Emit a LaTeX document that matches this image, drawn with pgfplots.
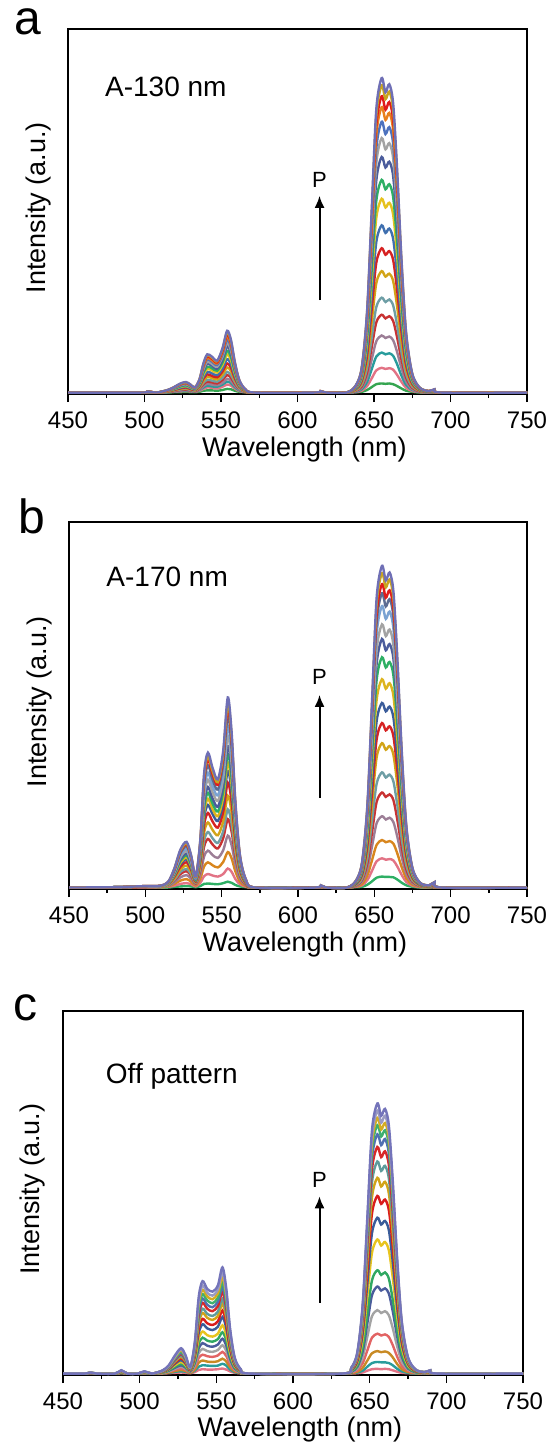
\documentclass[border=0pt]{standalone}
\usepackage{fontspec}
\setmainfont{Liberation Sans}
\usepackage{pgfplots}
\pgfplotsset{compat=1.18}
\usepackage{pgfplotstable}
\usetikzlibrary{arrows.meta}

% panel a colours (1 = highest curve)
\definecolor{pa1}{HTML}{6F6FB5}\definecolor{pa2}{HTML}{C8A420}\definecolor{pa3}{HTML}{E01B1B}
\definecolor{pa4}{HTML}{E8801E}\definecolor{pa5}{HTML}{4D72BE}\definecolor{pa6}{HTML}{A3A3A3}
\definecolor{pa7}{HTML}{4B5C9C}\definecolor{pa8}{HTML}{2EAF64}\definecolor{pa9}{HTML}{E6C21E}
\definecolor{pa10}{HTML}{3F6FAF}\definecolor{pa11}{HTML}{D62222}\definecolor{pa12}{HTML}{D2A418}
\definecolor{pa13}{HTML}{6E9EA5}\definecolor{pa14}{HTML}{C83232}\definecolor{pa15}{HTML}{9C7E96}
\definecolor{pa16}{HTML}{289C9C}\definecolor{pa17}{HTML}{E27385}\definecolor{pa18}{HTML}{35A550}
% panel b colours
\definecolor{pb1}{HTML}{6F6FB5}\definecolor{pb2}{HTML}{C8A420}\definecolor{pb3}{HTML}{E01B1B}
\definecolor{pb4}{HTML}{5C6C92}\definecolor{pb5}{HTML}{7AA2D2}\definecolor{pb6}{HTML}{A3A3A3}
\definecolor{pb7}{HTML}{4B5C9C}\definecolor{pb8}{HTML}{2EAF64}\definecolor{pb9}{HTML}{DDB41E}
\definecolor{pb10}{HTML}{3A5C9A}\definecolor{pb11}{HTML}{D62222}\definecolor{pb12}{HTML}{D2A418}
\definecolor{pb13}{HTML}{6E9EA5}\definecolor{pb14}{HTML}{C83232}\definecolor{pb15}{HTML}{9C7E96}
\definecolor{pb16}{HTML}{D8861E}\definecolor{pb17}{HTML}{E27385}\definecolor{pb18}{HTML}{2EAF64}
% panel c colours
\definecolor{pc1}{HTML}{7474BA}\definecolor{pc2}{HTML}{9A9AC2}\definecolor{pc3}{HTML}{D4AC22}
\definecolor{pc4}{HTML}{3EB06E}\definecolor{pc5}{HTML}{5070B2}\definecolor{pc6}{HTML}{D82828}
\definecolor{pc7}{HTML}{5E9C9C}\definecolor{pc8}{HTML}{D2A418}\definecolor{pc9}{HTML}{DA1C1C}
\definecolor{pc10}{HTML}{3A5C9A}\definecolor{pc11}{HTML}{E8C41E}\definecolor{pc12}{HTML}{30A862}
\definecolor{pc13}{HTML}{4B5C9C}\definecolor{pc14}{HTML}{A3A3A3}\definecolor{pc15}{HTML}{E26464}
\definecolor{pc16}{HTML}{C88A24}\definecolor{pc17}{HTML}{2A9C9C}\definecolor{pc18}{HTML}{E27385}

\pgfplotstableread{
w c1 c2 c3 c4 c5 c6 c7 c8 c9 c10 c11 c12 c13 c14 c15 c16 c17 c18
450 0 0 0 0 0 0 0 0 0 0 0 0 0 0 0 0 0 0
498 0 0 0 0 0 0 0 0 0 0 0 0 0 0 0 0 0 0
502 0.3 0.3 0.3 0.3 0.2 0.2 0.2 0.2 0.2 0.2 0.1 0.1 0.1 0.1 0.1 0 0 0
508 0 0 0 0 0 0 0 0 0 0 0 0 0 0 0 0 0 0
515 0.7 0.7 0.6 0.6 0.6 0.5 0.5 0.5 0.4 0.4 0.3 0.3 0.2 0.2 0.2 0.1 0.1 0.0
519 1.4 1.4 1.4 1.3 1.2 1.2 1.1 1.0 0.9 0.8 0.7 0.6 0.5 0.4 0.3 0.3 0.2 0.1
523 2.4 2.3 2.2 2.2 2.0 1.9 1.8 1.6 1.5 1.3 1.1 1.0 0.8 0.7 0.5 0.4 0.3 0.1
527 2.9 2.8 2.7 2.6 2.5 2.3 2.2 2.0 1.8 1.6 1.4 1.2 1.0 0.8 0.6 0.5 0.4 0.2
530 2.2 2.2 2.1 2.0 1.9 1.8 1.7 1.5 1.4 1.2 1.0 0.9 0.7 0.6 0.5 0.4 0.3 0.1
533 1.4 1.4 1.4 1.3 1.2 1.2 1.1 1.0 0.9 0.8 0.7 0.6 0.5 0.4 0.3 0.3 0.2 0.1
536 3.7 3.7 3.5 3.4 3.2 3.0 2.8 2.5 2.3 2.0 1.8 1.5 1.3 1.1 0.8 0.7 0.5 0.2
538.5 8.0 7.8 7.5 7.2 6.9 6.4 6.0 5.4 4.9 4.3 3.8 3.2 2.7 2.3 1.8 1.4 1.0 0.5
541 10.5 10.3 9.9 9.5 9.1 8.5 7.9 7.1 6.5 5.7 5.0 4.3 3.5 3.0 2.4 1.9 1.4 0.6
544 9.9 9.6 9.3 8.9 8.5 7.9 7.4 6.7 6.1 5.3 4.6 4.0 3.3 2.8 2.2 1.7 1.3 0.6
547.5 8.8 8.6 8.3 8.0 7.6 7.1 6.6 6.0 5.5 4.8 4.2 3.6 3.0 2.5 2.0 1.6 1.1 0.5
551 12.2 12.0 11.5 11.1 10.5 9.9 9.1 8.3 7.6 6.6 5.8 5.0 4.1 3.5 2.7 2.2 1.6 0.7
554 17.0 16.6 16.0 15.4 14.6 13.7 12.7 11.5 10.5 9.2 8.0 6.9 5.7 4.8 3.8 3.0 2.2 1.0
556.5 14.5 14.1 13.6 13.1 12.4 11.6 10.8 9.8 8.9 7.8 6.8 5.9 4.8 4.1 3.2 2.6 1.9 0.9
559 8.5 8.3 8.0 7.7 7.3 6.9 6.4 5.8 5.3 4.6 4.0 3.5 2.9 2.4 1.9 1.5 1.1 0.5
562 3.4 3.3 3.2 3.1 2.9 2.7 2.5 2.3 2.1 1.8 1.6 1.4 1.1 1.0 0.8 0.6 0.4 0.2
566 0.9 0.8 0.8 0.8 0.7 0.7 0.6 0.6 0.5 0.5 0.4 0.3 0.3 0.2 0.2 0.2 0.1 0.1
572 0 0 0 0 0 0 0 0 0 0 0 0 0 0 0 0 0 0
611 0 0 0 0 0 0 0 0 0 0 0 0 0 0 0 0 0 0
615 0.4 0.4 0.4 0.3 0.3 0.3 0.3 0.3 0.2 0.2 0.2 0.2 0.1 0.1 0.1 0.1 0 0
619 0 0 0 0 0 0 0 0 0 0 0 0 0 0 0 0 0 0
632 0 0 0 0 0 0 0 0 0 0 0 0 0 0 0 0 0 0
638 1.9 1.9 1.8 1.7 1.6 1.5 1.4 1.3 1.2 1.0 0.9 0.7 0.6 0.5 0.3 0.2 0.1 0.1
642 6.9 6.8 6.5 6.3 6.0 5.6 5.2 4.7 4.3 3.7 3.2 2.7 2.1 1.7 1.3 0.9 0.5 0.2
645.5 22.5 22.0 21.2 20.4 19.4 18.2 16.8 15.2 13.9 12.0 10.3 8.7 6.8 5.6 4.1 2.9 1.8 0.7
648.5 50.2 49.0 47.3 45.5 43.2 40.6 37.6 33.9 30.9 26.7 23.0 19.4 15.1 12.4 9.1 6.4 3.9 1.5
651.5 77.9 76.1 73.4 70.7 67.1 63.0 58.3 52.7 48.0 41.4 35.7 30.1 23.5 19.3 14.1 9.9 6.1 2.3
655 86.5 84.5 81.5 78.5 74.5 70.0 64.8 58.5 53.3 46.0 39.7 33.4 26.1 21.4 15.7 11.0 6.8 2.5
657.5 82.6 80.7 77.8 75.0 71.1 66.9 61.9 55.9 50.9 43.9 37.9 31.9 24.9 20.4 15.0 10.5 6.5 2.4
660 84.8 82.8 79.9 76.9 73.0 68.6 63.5 57.3 52.2 45.1 38.9 32.7 25.6 21.0 15.4 10.8 6.7 2.5
662.5 79.6 77.7 75.0 72.2 68.5 64.4 59.6 53.8 49.0 42.3 36.5 30.7 24.0 19.7 14.4 10.1 6.3 2.3
665 62.3 60.8 58.7 56.5 53.6 50.4 46.7 42.1 38.4 33.1 28.6 24.0 18.8 15.4 11.3 7.9 4.9 1.8
668 36.3 35.5 34.2 33.0 31.3 29.4 27.2 24.6 22.4 19.3 16.7 14.0 11.0 9.0 6.6 4.6 2.9 1.1
671 16.4 16.1 15.5 14.9 14.2 13.3 12.3 11.1 10.1 8.7 7.5 6.3 5.0 4.1 3.0 2.1 1.3 0.5
675 5.2 5.1 4.9 4.7 4.5 4.2 3.9 3.5 3.2 2.8 2.4 2.0 1.6 1.3 0.9 0.7 0.4 0.2
680 1.3 1.3 1.2 1.2 1.1 1.1 1.0 0.9 0.8 0.7 0.6 0.5 0.4 0.3 0.2 0.2 0.1 0.0
686 0.4 0.4 0.4 0.4 0.4 0.4 0.3 0.3 0.3 0.2 0.2 0.2 0.1 0.1 0.1 0.1 0.0 0.0
689.5 0.9 0.8 0.8 0.8 0.7 0.7 0.6 0.6 0.5 0.5 0.4 0.3 0.3 0.2 0.2 0.1 0.1 0.0
694 0 0 0 0 0 0 0 0 0 0 0 0 0 0 0 0 0 0
750 0 0 0 0 0 0 0 0 0 0 0 0 0 0 0 0 0 0
}\tabA

\pgfplotstableread{
w c1 c2 c3 c4 c5 c6 c7 c8 c9 c10 c11 c12 c13 c14 c15 c16 c17 c18
450 0 0 0 0 0 0 0 0 0 0 0 0 0 0 0 0 0 0
480 0.1 0.1 0.1 0.1 0.1 0.1 0.1 0.1 0.1 0.1 0 0 0 0 0 0 0 0
500 0.4 0.4 0.4 0.4 0.3 0.3 0.3 0.3 0.3 0.2 0.2 0.2 0.2 0.1 0.1 0.1 0 0
510 0.5 0.5 0.5 0.5 0.4 0.4 0.4 0.4 0.3 0.3 0.3 0.2 0.2 0.2 0.1 0.1 0.1 0
515 1.6 1.5 1.5 1.4 1.3 1.2 1.2 1.1 1.0 1.0 0.9 0.8 0.6 0.6 0.4 0.3 0.2 0.0
519 5.2 5.1 4.9 4.7 4.4 4.2 3.9 3.7 3.4 3.2 2.9 2.5 2.1 1.9 1.4 1.0 0.5 0.2
523 10.4 10.1 9.9 9.4 8.8 8.3 7.7 7.3 6.8 6.4 5.7 5.0 4.3 3.7 2.8 1.9 1.0 0.3
527 12.5 12.1 11.8 11.3 10.6 10.0 9.3 8.8 8.2 7.7 6.9 6.0 5.1 4.5 3.4 2.3 1.2 0.4
530 8.8 8.6 8.4 8.0 7.5 7.1 6.6 6.2 5.8 5.4 4.9 4.3 3.6 3.2 2.4 1.6 0.9 0.3
533 3.1 3.0 3.0 2.8 2.7 2.5 2.3 2.2 2.1 1.9 1.7 1.5 1.3 1.1 0.9 0.6 0.3 0.1
536 13.0 12.7 12.3 11.8 11.1 10.4 9.7 9.1 8.6 8.0 7.2 6.3 5.4 4.7 3.6 2.4 1.3 0.4
538.5 31.2 30.4 29.6 28.2 26.5 24.9 23.2 21.9 20.5 19.1 17.2 15.1 12.8 11.2 8.5 5.8 3.1 1.0
541 36.9 35.9 35.0 33.4 31.4 29.5 27.5 25.9 24.3 22.6 20.4 17.8 15.2 13.3 10.1 6.9 3.7 1.1
544 32.8 31.9 31.1 29.6 27.8 26.1 24.4 23.0 21.5 20.1 18.1 15.8 13.5 11.8 8.9 6.1 3.3 1.0
547.5 29.6 28.8 28.1 26.8 25.2 23.7 22.1 20.8 19.5 18.2 16.4 14.3 12.2 10.7 8.1 5.5 3.0 0.9
551 37.4 36.4 35.5 33.8 31.8 29.9 27.9 26.3 24.6 23.0 20.7 18.1 15.4 13.5 10.2 7.0 3.7 1.2
554 52.0 50.6 49.3 47.0 44.2 41.5 38.7 36.5 34.2 31.9 28.7 25.1 21.4 18.7 14.2 9.7 5.2 1.6
556.5 42.6 41.5 40.4 38.5 36.2 34.0 31.7 29.9 28.0 26.2 23.5 20.6 17.5 15.3 11.6 8.0 4.3 1.3
559 23.4 22.8 22.2 21.2 19.9 18.7 17.4 16.4 15.4 14.4 12.9 11.3 9.6 8.4 6.4 4.4 2.3 0.7
562 8.8 8.6 8.4 8.0 7.5 7.1 6.6 6.2 5.8 5.4 4.9 4.3 3.6 3.2 2.4 1.6 0.9 0.3
566 2.1 2.0 2.0 1.9 1.8 1.7 1.5 1.5 1.4 1.3 1.1 1.0 0.9 0.7 0.6 0.4 0.2 0.1
572 0 0 0 0 0 0 0 0 0 0 0 0 0 0 0 0 0 0
611 0 0 0 0 0 0 0 0 0 0 0 0 0 0 0 0 0 0
615 0.6 0.6 0.5 0.5 0.5 0.5 0.4 0.4 0.4 0.3 0.3 0.3 0.2 0.2 0.1 0.1 0 0
619 0 0 0 0 0 0 0 0 0 0 0 0 0 0 0 0 0 0
632 0 0 0 0 0 0 0 0 0 0 0 0 0 0 0 0 0 0
638 1.9 1.9 1.8 1.8 1.7 1.6 1.5 1.4 1.3 1.1 1.0 0.9 0.7 0.6 0.4 0.3 0.2 0.1
642 7.0 6.9 6.6 6.4 6.2 5.8 5.4 5.0 4.6 4.0 3.6 3.2 2.5 2.1 1.6 1.0 0.6 0.2
645.5 22.9 22.4 21.6 20.9 20.0 18.7 17.7 16.4 14.8 13.1 11.7 10.3 8.2 6.8 5.1 3.4 2.1 0.8
648.5 51.0 49.9 48.1 46.7 44.7 41.8 39.4 36.5 33.1 29.3 26.1 22.9 18.3 15.1 11.3 7.5 4.6 1.7
651.5 79.2 77.4 74.7 72.5 69.3 64.8 61.2 56.7 51.3 45.5 40.5 35.6 28.4 23.4 17.6 11.7 7.2 2.7
655 88.0 86.0 83.0 80.5 77.0 72.0 68.0 63.0 57.0 50.5 45.0 39.5 31.5 26.0 19.5 13.0 8.0 3.0
657.5 84.0 82.1 79.3 76.9 73.5 68.8 64.9 60.2 54.4 48.2 43.0 37.7 30.1 24.8 18.6 12.4 7.6 2.9
660 86.2 84.3 81.3 78.9 75.5 70.6 66.6 61.7 55.9 49.5 44.1 38.7 30.9 25.5 19.1 12.7 7.8 2.9
662.5 81.0 79.1 76.4 74.1 70.8 66.2 62.6 58.0 52.4 46.5 41.4 36.3 29.0 23.9 17.9 12.0 7.4 2.8
665 63.4 61.9 59.8 58.0 55.4 51.8 49.0 45.4 41.0 36.4 32.4 28.4 22.7 18.7 14.0 9.4 5.8 2.2
668 37.0 36.1 34.9 33.8 32.3 30.2 28.6 26.5 23.9 21.2 18.9 16.6 13.2 10.9 8.2 5.5 3.4 1.3
671 16.7 16.3 15.8 15.3 14.6 13.7 12.9 12.0 10.8 9.6 8.6 7.5 6.0 4.9 3.7 2.5 1.5 0.6
675 5.3 5.2 5.0 4.8 4.6 4.3 4.1 3.8 3.4 3.0 2.7 2.4 1.9 1.6 1.2 0.8 0.5 0.2
680 1.3 1.3 1.2 1.2 1.2 1.1 1.0 0.9 0.9 0.8 0.7 0.6 0.5 0.4 0.3 0.2 0.1 0.0
686 0.6 0.6 0.6 0.6 0.5 0.5 0.5 0.4 0.4 0.4 0.3 0.3 0.2 0.2 0.1 0.1 0.1 0.0
689.5 1.5 1.5 1.4 1.4 1.3 1.2 1.2 1.1 1.0 0.9 0.8 0.7 0.5 0.4 0.3 0.2 0.1 0.1
694 0 0 0 0 0 0 0 0 0 0 0 0 0 0 0 0 0 0
750 0 0 0 0 0 0 0 0 0 0 0 0 0 0 0 0 0 0
}\tabB

\pgfplotstableread{
w c1 c2 c3 c4 c5 c6 c7 c8 c9 c10 c11 c12 c13 c14 c15 c16 c17 c18
450 0 0 0 0 0 0 0 0 0 0 0 0 0 0 0 0 0 0
464 0 0 0 0 0 0 0 0 0 0 0 0 0 0 0 0 0 0
468 0.3 0.3 0.3 0.3 0.2 0.2 0.2 0.2 0.2 0.1 0.1 0.1 0.1 0.1 0 0 0 0
472 0 0 0 0 0 0 0 0 0 0 0 0 0 0 0 0 0 0
484 0 0 0 0 0 0 0 0 0 0 0 0 0 0 0 0 0 0
488 0.9 0.9 0.8 0.8 0.8 0.7 0.7 0.6 0.6 0.5 0.4 0.4 0.3 0.3 0.2 0.2 0.1 0.1
492 0 0 0 0 0 0 0 0 0 0 0 0 0 0 0 0 0 0
499 0 0 0 0 0 0 0 0 0 0 0 0 0 0 0 0 0 0
503 0.6 0.6 0.5 0.5 0.5 0.5 0.4 0.4 0.4 0.3 0.3 0.2 0.2 0.2 0.1 0.1 0.1 0.0
508 0 0 0 0 0 0 0 0 0 0 0 0 0 0 0 0 0 0
515 0.9 0.8 0.8 0.8 0.7 0.7 0.6 0.6 0.5 0.5 0.4 0.3 0.3 0.2 0.2 0.1 0.1 0.0
519 2.3 2.2 2.1 2.0 1.9 1.8 1.6 1.5 1.4 1.2 1.1 0.9 0.8 0.6 0.5 0.3 0.2 0.1
523 5.0 4.7 4.5 4.3 4.0 3.8 3.5 3.3 3.0 2.7 2.3 1.9 1.6 1.3 1.0 0.7 0.5 0.2
527 7.0 6.7 6.4 6.0 5.7 5.4 4.9 4.6 4.2 3.7 3.2 2.7 2.3 1.9 1.4 1.0 0.6 0.3
530 5.0 4.7 4.5 4.3 4.0 3.8 3.5 3.3 3.0 2.7 2.3 1.9 1.6 1.3 1.0 0.7 0.5 0.2
533 1.8 1.7 1.6 1.5 1.4 1.3 1.2 1.2 1.0 0.9 0.8 0.7 0.6 0.5 0.4 0.2 0.2 0.1
536 8.8 8.4 8.0 7.6 7.1 6.7 6.2 5.8 5.2 4.7 4.0 3.4 2.9 2.3 1.8 1.2 0.8 0.4
538.5 21.1 20.1 19.2 18.1 17.1 16.1 14.8 13.8 12.5 11.2 9.6 8.2 6.9 5.6 4.3 3.0 1.9 1.0
541 25.5 24.3 23.1 21.9 20.7 19.5 17.9 16.7 15.1 13.6 11.6 9.9 8.4 6.8 5.2 3.6 2.3 1.2
544 23.4 22.3 21.3 20.2 19.0 17.9 16.5 15.4 13.9 12.5 10.6 9.1 7.7 6.2 4.8 3.3 2.2 1.1
547.5 22.6 21.5 20.5 19.4 18.3 17.2 15.9 14.8 13.4 12.0 10.2 8.8 7.4 6.0 4.6 3.2 2.1 1.1
551 24.3 23.2 22.1 20.9 19.8 18.6 17.1 15.9 14.4 12.9 11.0 9.5 8.0 6.5 5.0 3.4 2.2 1.2
554 29.3 27.9 26.6 25.2 23.8 22.4 20.6 19.2 17.4 15.6 13.3 11.4 9.6 7.8 6.0 4.1 2.7 1.4
556.5 23.4 22.3 21.3 20.2 19.0 17.9 16.5 15.4 13.9 12.5 10.6 9.1 7.7 6.2 4.8 3.3 2.2 1.1
559 12.3 11.7 11.2 10.6 10.0 9.4 8.7 8.1 7.3 6.6 5.6 4.8 4.0 3.3 2.5 1.7 1.1 0.6
562 4.4 4.2 4.0 3.8 3.6 3.4 3.1 2.9 2.6 2.3 2.0 1.7 1.4 1.2 0.9 0.6 0.4 0.2
566 1.2 1.1 1.1 1.0 1.0 0.9 0.8 0.8 0.7 0.6 0.5 0.5 0.4 0.3 0.2 0.2 0.1 0.1
572 0 0 0 0 0 0 0 0 0 0 0 0 0 0 0 0 0 0
632 0 0 0 0 0 0 0 0 0 0 0 0 0 0 0 0 0 0
638 1.6 1.6 1.6 1.5 1.5 1.4 1.3 1.2 1.1 0.9 0.8 0.6 0.5 0.4 0.2 0.1 0.1 0.0
642 6.0 5.8 5.6 5.5 5.3 5.0 4.7 4.3 3.9 3.4 3.0 2.3 1.9 1.4 0.9 0.5 0.3 0.1
645.5 19.4 18.9 18.3 17.8 17.2 16.3 15.2 14.0 12.7 11.2 9.6 7.4 6.2 4.6 2.9 1.6 0.8 0.3
648.5 43.2 42.1 40.9 39.7 38.3 36.3 33.9 31.3 28.4 24.9 21.5 16.5 13.9 10.2 6.4 3.6 1.9 0.8
651.5 67.1 65.3 63.5 61.7 59.4 56.3 52.7 48.6 44.1 38.7 33.3 25.7 21.6 15.8 9.9 5.6 2.9 1.2
655 74.5 72.5 70.5 68.5 66.0 62.5 58.5 54.0 49.0 43.0 37.0 28.5 24.0 17.5 11.0 6.2 3.2 1.3
657.5 71.1 69.2 67.3 65.4 63.0 59.7 55.9 51.6 46.8 41.1 35.3 27.2 22.9 16.7 10.5 5.9 3.1 1.2
660 73.0 71.1 69.1 67.1 64.7 61.3 57.3 52.9 48.0 42.1 36.3 27.9 23.5 17.2 10.8 6.1 3.1 1.3
662.5 68.5 66.7 64.9 63.0 60.7 57.5 53.8 49.7 45.1 39.6 34.0 26.2 22.1 16.1 10.1 5.7 2.9 1.2
665 53.6 52.2 50.8 49.3 47.5 45.0 42.1 38.9 35.3 31.0 26.6 20.5 17.3 12.6 7.9 4.5 2.3 0.9
668 31.3 30.5 29.6 28.8 27.7 26.3 24.6 22.7 20.6 18.1 15.5 12.0 10.1 7.4 4.6 2.6 1.3 0.5
671 14.2 13.8 13.4 13.0 12.5 11.9 11.1 10.3 9.3 8.2 7.0 5.4 4.6 3.3 2.1 1.2 0.6 0.2
675 4.5 4.4 4.2 4.1 4.0 3.8 3.5 3.2 2.9 2.6 2.2 1.7 1.4 1.1 0.7 0.4 0.2 0.1
680 1.1 1.1 1.1 1.0 1.0 0.9 0.9 0.8 0.7 0.6 0.6 0.4 0.4 0.3 0.2 0.1 0.0 0.0
686 0.4 0.4 0.4 0.4 0.4 0.4 0.4 0.3 0.3 0.3 0.2 0.2 0.1 0.1 0.1 0.0 0.0 0.0
689.5 0.9 0.9 0.8 0.8 0.8 0.8 0.7 0.6 0.6 0.5 0.4 0.3 0.3 0.2 0.1 0.1 0.0 0.0
694 0 0 0 0 0 0 0 0 0 0 0 0 0 0 0 0 0 0
750 0 0 0 0 0 0 0 0 0 0 0 0 0 0 0 0 0 0
}\tabC

\pgfplotsset{
  spec/.style={
    scale only axis,
    xmin=450, xmax=750, ymin=-0.4, ymax=100,
    xtick={450,500,...,750},
    minor x tick num=1,
    ytick=\empty,
    xtick pos=left,
    tick align=outside,
    major tick length=4pt,
    minor tick length=2pt,
    axis line style={line width=0.9pt, black},
    every tick/.append style={black, line width=0.7pt},
    every minor tick/.append style={black, line width=0.7pt},
    /pgf/number format/assume math mode=true,
    tick label style={font=\fontsize{12}{14}\selectfont},
    xticklabel style={yshift=-1.5pt},
    xlabel={Wavelength (nm)},
    ylabel={Intensity (a.u.)},
    label style={font=\fontsize{13.5}{16}\selectfont},
    xlabel style={at={(axis description cs:0.515,-0.17)}, anchor=base},
    ylabel style={at={(axis description cs:-0.05,0.51)}, anchor=base},
    every axis plot/.append style={line width=1.2pt, smooth},
  }
}

\begin{document}
\begin{tikzpicture}
\path[use as bounding box] (0pt,0pt) rectangle (274.5pt,-724.5pt);

% ---------------- a ----------------
\begin{axis}[spec, at={(34pt,-14.5pt)}, anchor=north west, width=229.5pt, height=182.5pt]
\pgfplotsinvokeforeach{18,17,...,1}{
  \addplot[color=pa#1] table[x=w, y=c#1] {\tabA};
}
\node[anchor=base west, inner sep=0pt, font=\fontsize{14}{16}\selectfont] at (rel axis cs:0.08,0.816) {A-130 nm};
\node[anchor=base, inner sep=0pt, font=\fontsize{11}{13}\selectfont] at (rel axis cs:0.548,0.566) {P};
\draw[-{Latex[length=6pt,width=5pt]}, line width=1pt] (rel axis cs:0.548,0.257) -- (rel axis cs:0.548,0.543);
\end{axis}

% ---------------- b ----------------
\begin{axis}[spec, at={(34.5pt,-261pt)}, anchor=north west, width=229pt, height=183.5pt]
\pgfplotsinvokeforeach{18,17,...,1}{
  \addplot[color=pb#1] table[x=w, y=c#1] {\tabB};
}
\node[anchor=base west, inner sep=0pt, font=\fontsize{14}{16}\selectfont] at (rel axis cs:0.081,0.824) {A-170 nm};
\node[anchor=base, inner sep=0pt, font=\fontsize{11}{13}\selectfont] at (rel axis cs:0.547,0.557) {P};
\draw[-{Latex[length=6pt,width=5pt]}, line width=1pt] (rel axis cs:0.547,0.249) -- (rel axis cs:0.547,0.529);
\end{axis}

% ---------------- c ----------------
\begin{axis}[spec, at={(31.5pt,-505.5pt)}, anchor=north west, width=230pt, height=182pt]
\pgfplotsinvokeforeach{18,17,...,1}{
  \addplot[color=pc#1] table[x=w, y=c#1] {\tabC};
}
\node[anchor=base west, inner sep=0pt, font=\fontsize{14}{16}\selectfont] at (rel axis cs:0.0925,0.80) {Off pattern};
\node[anchor=base, inner sep=0pt, font=\fontsize{11}{13}\selectfont] at (rel axis cs:0.5576,0.514) {P};
\draw[-{Latex[length=6pt,width=5pt]}, line width=1pt] (rel axis cs:0.5576,0.199) -- (rel axis cs:0.5576,0.491);
\end{axis}

% panel letters
\node[anchor=base west, font=\fontsize{24}{26}\selectfont, inner sep=0pt] at (7pt,-17.5pt) {a};
\node[anchor=base west, font=\fontsize{24}{26}\selectfont, inner sep=0pt] at (9pt,-266.8pt) {b};
\node[anchor=base west, font=\fontsize{24}{26}\selectfont, inner sep=0pt] at (6.7pt,-510pt) {c};
\end{tikzpicture}
\end{document}
